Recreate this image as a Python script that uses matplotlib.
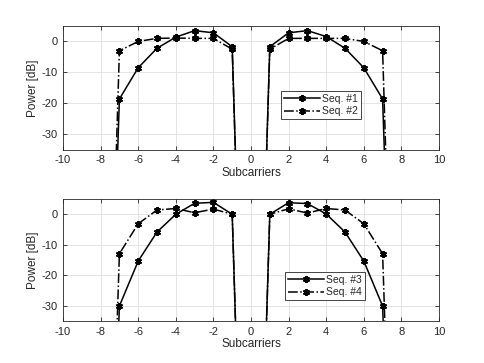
import matplotlib
matplotlib.use("Agg")
import matplotlib.pyplot as plt
import numpy as np

plt.rcParams['font.family'] = ['Liberation Sans', 'DejaVu Sans']
plt.rcParams['axes.unicode_minus'] = False

subcarriers = [-8, -7, -6, -5, -4, -3, -2, -1, 0, 1, 2, 3, 4, 5, 6, 7, 8]
seq1 = [-200, -18.6, -8.5, -2.2, 1.4, 3.5, 2.8, -1.7, -200, -1.7, 2.8, 3.5, 1.6, -2.2, -8.5, -18.6, -200]
seq2 = [-200, -3.0, 0.0, 1.0, 1.1, 1.0, 1.0, -2.5, -200, -2.5, 1.0, 1.0, 1.0, 1.0, 0.0, -3.0, -200]
seq3 = [-200, -30.0, -15.3, -5.8, 0.0, 3.6, 3.9, 0.0, -200, 0.0, 3.8, 3.5, 0.1, -5.8, -15.3, -30.0, -200]
seq4 = [-200, -12.9, -3.1, 1.4, 1.9, 0.5, 1.7, 0.0, -200, 0.0, 1.8, 0.4, 1.9, 1.4, -3.1, -12.9, -200]

xticks = list(range(-10, 11, 2))
yticks = [-30, -20, -10, 0]

fig = plt.figure(figsize=(4.85, 3.63), dpi=100)
W, H = 485, 363
def ax_rect(l, t, r, b):
    return [l / W, 1 - b / H, (r - l) / W, (b - t) / H]

ax1 = fig.add_axes(ax_rect(63, 26, 439, 149.7))
ax2 = fig.add_axes(ax_rect(63, 199, 439, 321.3))

axcol = '#262626'
def style(ax):
    ax.set_xlim(-10, 10)
    ax.set_ylim(-35, 5)
    ax.set_xticks(xticks)
    ax.set_yticks(yticks)
    ax.grid(True, color='#dfdfdf', linewidth=0.6)
    ax.set_axisbelow(True)
    ax.tick_params(direction='in', length=3, width=0.6, colors=axcol, labelsize=8, pad=4,
                   top=True, right=True, labeltop=False, labelright=False)
    for s in ax.spines.values():
        s.set_color(axcol)
        s.set_linewidth(0.6)
    ax.set_xlabel('Subcarriers', fontsize=8.5, color=axcol, labelpad=1)
    ax.set_ylabel('Power [dB]', fontsize=8.5, color=axcol, labelpad=2)

mk = dict(marker=(6, 2, 0), markersize=5, markeredgewidth=1.4, color='black', linewidth=1.1)

ax1.plot(subcarriers, seq1, linestyle='-', label='Seq. #1', **mk)
ax1.plot(subcarriers, seq2, linestyle='-.', label='Seq. #2', **mk)
ax2.plot(subcarriers, seq3, linestyle='-', label='Seq. #3', **mk)
ax2.plot(subcarriers, seq4, linestyle='-.', label='Seq. #4', **mk)

for ax in (ax1, ax2):
    style(ax)

def legend(ax, l, t):
    leg = ax.legend(loc='upper left', bbox_to_anchor=(l / W, 1 - t / H),
                    bbox_transform=fig.transFigure, fontsize=7.5,
                    frameon=True, fancybox=False, borderpad=0.3, labelspacing=0.2,
                    handlelength=3.4, handletextpad=0.25, borderaxespad=0)
    leg.get_frame().set_edgecolor(axcol)
    leg.get_frame().set_linewidth(0.6)
    leg.get_frame().set_alpha(1)
    for t_ in leg.get_texts():
        t_.set_color(axcol)

legend(ax1, 281, 91)
legend(ax2, 285, 272)

fig.savefig('out.png', dpi=100)
